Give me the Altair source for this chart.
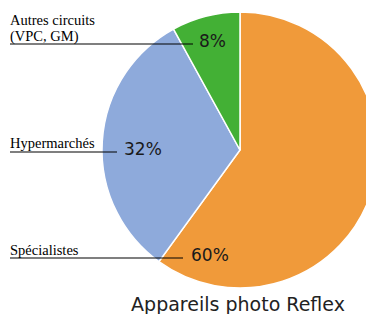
import altair as alt
import pandas as pd

categories = ["Spécialistes", "Hypermarchés", "Autres circuits"]
shares = [60, 32, 8]
pct_labels = ["60%", "32%", "8%"]
colors = ["#F09A3A", "#8EAADB", "#43B035"]
title_text = "Appareils photo Reflex"

df = pd.DataFrame({"cat": categories, "share": shares, "pct": pct_labels,
                   "ord": list(range(len(categories)))})

W, H = 358, 306
cx, cy, R = 232, 142, 138

pie = alt.Chart(df).mark_arc(outerRadius=R, stroke="white", strokeWidth=1.5).encode(
    theta=alt.Theta("share:Q", stack=True),
    order=alt.Order("ord:Q"),
    color=alt.Color("cat:N", scale=alt.Scale(domain=categories, range=colors), legend=None),
    x=alt.value(cx), y=alt.value(cy),
)

serif = "Liberation Serif"
sans = "DejaVu Sans"

layers = [pie]
layers.append(alt.Chart(df.iloc[[0]]).mark_text(align="left", baseline="alphabetic", font=serif, fontSize=14.5, color="black")
              .encode(text="cat:N", x=alt.value(2), y=alt.value(247)))
layers.append(alt.Chart(df.iloc[[1]]).mark_text(align="left", baseline="alphabetic", font=serif, fontSize=14.5, color="black")
              .encode(text="cat:N", x=alt.value(2), y=alt.value(140)))
layers.append(alt.Chart(df.iloc[[2]]).mark_text(align="left", baseline="alphabetic", font=serif, fontSize=14.5, color="black", lineHeight=16)
              .encode(text=alt.value(["Autres circuits", "(VPC, GM)"]), x=alt.value(2), y=alt.value(17)))

# leader rules
for (x2, yy) in [(175, 250), (109, 144), (185, 36)]:
    layers.append(alt.Chart(df.iloc[[0]]).mark_rule(color="black", strokeWidth=1.2)
                  .encode(x=alt.value(2), x2=alt.value(x2), y=alt.value(yy)))

# percentage labels
for i, (x, y) in enumerate([(183, 253), (116, 147), (191, 39)]):
    layers.append(alt.Chart(df.iloc[[i]]).mark_text(align="left", baseline="alphabetic", font=sans, fontSize=17, color="#1a1a1a")
                  .encode(text="pct:N", x=alt.value(x), y=alt.value(y)))

# title
layers.append(alt.Chart(df.iloc[[0]]).mark_text(align="center", baseline="alphabetic", font=sans, fontSize=19, color="#222222")
              .encode(text=alt.value(title_text), x=alt.value(230), y=alt.value(303)))

chart = alt.layer(*layers).properties(
    width=W, height=H, padding=0, autosize=alt.AutoSizeParams(type="none")
).configure_view(stroke=None)

chart.save("out.html", embed_options={"renderer": "svg", "actions": False})
